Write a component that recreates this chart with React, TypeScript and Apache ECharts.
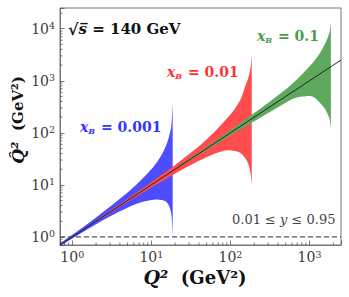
import React, { useEffect, useRef } from "react";
import * as echarts from "echarts";

// Axis extents (GeV^2)
const X_MIN = 0.7;
const X_MAX = 2500;
const Y_MIN = 0.7;
const Y_MAX = 25000;

// x_B = 0.001 band: Q^2 and the reconstructed Q̂^2 envelope
const blueQ2 = [0.7, 1, 1.6, 2.5, 4, 6.3, 9, 11.2, 13.5, 15.5, 17, 18, 18.6];
const blueUpper = [0.75, 1.1, 1.84, 3.08, 5.4, 9.75, 16.7, 24.5, 38, 59, 93, 150, 372];
const blueLower = [0.668, 0.93, 1.43, 2.13, 3.1, 4.26, 4.94, 5.24, 5.13, 4.68, 3.72, 2.54, 1.1];

// x_B = 0.01 band
const redQ2 = [1.96, 3, 5, 10, 16, 25, 40, 63, 90, 112, 135, 155, 170, 180, 186];
const redUpper = [2.0, 3.14, 5.36, 11.2, 18.8, 31.5, 55.2, 105, 188, 281, 447, 813, 1200, 1800, 3160];
const redLower = [1.91, 2.86, 4.67, 8.9, 13.6, 19.9, 29, 39.7, 46.1, 44.6, 40.7, 32, 24, 16, 10];

// x_B = 0.1 band
const greenQ2 = [19.6, 30, 50, 100, 160, 250, 400, 630, 900, 1120, 1350, 1550, 1700, 1800, 1862];
const greenUpper = [20.0, 31.4, 53.6, 112, 188, 308, 527, 931, 1600, 2290, 3390, 4900, 6760, 9020, 12900];
const greenLower = [19.1, 28.6, 46.7, 89, 136, 203, 310, 456, 506, 489, 380, 295, 224, 180, 115];

// Q̂^2 = Q^2 diagonal and the Q̂^2 = 1 cut
const diagonalQ2 = [0.7, 2500];
const cutQ2hat = 1;

// minor ticks
const xMinorTicks = [0.8, 0.9, 2, 3, 4, 5, 6, 7, 8, 9, 20, 30, 40, 50, 60, 70, 80, 90, 200, 300, 400, 500, 600, 700, 800, 900, 2000];
const yMinorTicks = [0.8, 0.9, 2, 3, 4, 5, 6, 7, 8, 9, 20, 30, 40, 50, 60, 70, 80, 90, 200, 300, 400, 500, 600, 700, 800, 900, 2000, 3000, 4000, 5000, 6000, 7000, 8000, 9000, 20000];

const SERIF = "DejaVu Serif";

const BLUE = "#4d4dff";
const RED = "#ff4d4d";
const GREEN = "#5fa95f";

function curve(pts: number[][]): string {
  let d = "";
  for (let i = 0; i < pts.length - 1; i++) {
    const p0 = pts[Math.max(i - 1, 0)];
    const p1 = pts[i];
    const p2 = pts[i + 1];
    const p3 = pts[Math.min(i + 2, pts.length - 1)];
    const c1 = [p1[0] + (p2[0] - p0[0]) / 6, p1[1] + (p2[1] - p0[1]) / 6];
    const c2 = [p2[0] - (p3[0] - p1[0]) / 6, p2[1] - (p3[1] - p1[1]) / 6];
    d += ` C ${c1[0]} ${c1[1]} ${c2[0]} ${c2[1]} ${p2[0]} ${p2[1]}`;
  }
  return d;
}

function bandSeries(name: string, q2: number[], up: number[], lo: number[], color: string) {
  return {
    type: "custom",
    name,
    silent: true,
    clip: true,
    data: [[q2[0], lo[0]]],
    renderItem: (_params: any, api: any) => {
      const lower = q2.map((q, i) => api.coord([q, lo[i]]));
      const upper = q2.map((q, i) => api.coord([q, up[i]])).reverse();
      let d = `M ${lower[0][0]} ${lower[0][1]}` + curve(lower);
      d += ` L ${upper[0][0]} ${upper[0][1]}` + curve(upper) + " Z";
      return { type: "path", shape: { pathData: d }, style: { fill: color, stroke: null } };
    },
  };
}

function tickSeries(values: number[], isX: boolean) {
  return {
    type: "custom",
    silent: true,
    data: values.map((v) => (isX ? [v, Y_MIN] : [X_MIN, v])),
    renderItem: (_params: any, api: any) => {
      const p = api.coord([api.value(0), api.value(1)]);
      const shape = isX
        ? { x1: p[0], y1: p[1], x2: p[0], y2: p[1] - 2.5 }
        : { x1: p[0], y1: p[1], x2: p[0] + 2.5, y2: p[1] };
      return { type: "line", shape, style: { stroke: "#555", lineWidth: 0.8 } };
    },
  };
}

function powLabel(v: number): string {
  const e = Math.round(Math.log10(v));
  if (Math.abs(Math.log10(v) - e) > 1e-6) return "";
  return `{b|10}{s|${e}}`;
}

const labelRich = {
  b: { fontFamily: SERIF, fontSize: 14, lineHeight: 14, color: "#3a3a3a" },
  s: { fontFamily: SERIF, fontSize: 9.5, lineHeight: 10, color: "#3a3a3a", padding: [0, 0, 6, 0] },
};

function tok(color: string, extra: any) {
  return { fontFamily: SERIF, fontWeight: "bold", fill: color, color, ...extra };
}

function xbText(x: number, y: number, value: string, color: string) {
  return {
    type: "text",
    x,
    y,
    silent: true,
    style: {
      text: `{x|x}{b|B}{t| = ${value}}`,
      align: "left",
      verticalAlign: "middle",
      textAlign: "left",
      textVerticalAlign: "middle",
      rich: {
        x: tok(color, { fontSize: 14, fontStyle: "italic" }),
        b: tok(color, { fontSize: 8, fontStyle: "italic", padding: [8, 1, 0, 0] }),
        t: tok(color, { fontSize: 14 }),
      },
    },
  };
}

export default function App() {
  const ref = useRef<HTMLDivElement>(null);
  useEffect(() => {
    const chart = echarts.init(ref.current!, null, { renderer: "svg" });
    const option: any = {
      animation: false,
      backgroundColor: "#fff",
      textStyle: { fontFamily: SERIF },
      grid: { left: 60, top: 8, right: 8, bottom: 52, show: true, borderColor: "#777", borderWidth: 1 },
      xAxis: {
        type: "log",
        logBase: 10,
        min: X_MIN,
        max: X_MAX,
        axisLine: { show: true, lineStyle: { color: "#777", width: 1 } },
        axisTick: { show: true, inside: true, length: 4.5, lineStyle: { color: "#555", width: 0.8 } },
        splitLine: { show: false },
        axisLabel: { margin: 5, fontFamily: SERIF, formatter: powLabel, rich: labelRich },
      },
      yAxis: {
        type: "log",
        logBase: 10,
        min: Y_MIN,
        max: Y_MAX,
        axisLine: { show: true, lineStyle: { color: "#777", width: 1 } },
        axisTick: { show: true, inside: true, length: 4.5, lineStyle: { color: "#555", width: 0.8 } },
        splitLine: { show: false },
        axisLabel: { margin: 5, fontFamily: SERIF, formatter: powLabel, rich: labelRich },
      },
      series: [
        bandSeries("xB=0.001", blueQ2, blueUpper, blueLower, BLUE),
        bandSeries("xB=0.01", redQ2, redUpper, redLower, RED),
        bandSeries("xB=0.1", greenQ2, greenUpper, greenLower, GREEN),
        {
          type: "line",
          silent: true,
          symbol: "none",
          data: [
            [X_MIN, cutQ2hat],
            [X_MAX, cutQ2hat],
          ],
          lineStyle: { color: "#555", width: 1.2, type: [5, 3] },
        },
        {
          type: "line",
          silent: true,
          symbol: "none",
          data: diagonalQ2.map((q) => [q, q]),
          lineStyle: { color: "#222", width: 1 },
        },
        tickSeries(xMinorTicks, true),
        tickSeries(yMinorTicks, false),
      ],
      graphic: [
        {
          type: "text",
          x: 68,
          y: 29,
          silent: true,
          style: {
            text: "{r|√}{s|s\u0305}{t| = 140 GeV}",
            align: "left",
            verticalAlign: "middle",
            textAlign: "left",
            textVerticalAlign: "middle",
            rich: {
              r: tok("#111", { fontSize: 16 }),
              s: tok("#111", { fontSize: 15, fontStyle: "italic" }),
              t: tok("#111", { fontSize: 15 }),
            },
          },
        },
        xbText(80, 127, "0.001", "#3535ff"),
        xbText(167, 72, "0.01", "#ff3535"),
        xbText(257, 36, "0.1", "#4a9e4a"),
        {
          type: "text",
          x: 232,
          y: 219,
          silent: true,
          style: {
            text: "{t|0.01 ≤ }{i|y}{t| ≤ 0.95}",
            align: "left",
            verticalAlign: "middle",
            textAlign: "left",
            textVerticalAlign: "middle",
            rich: {
              t: { fontFamily: SERIF, fontSize: 13, fill: "#444", color: "#444" },
              i: { fontFamily: SERIF, fontSize: 13, fontStyle: "italic", fill: "#444", color: "#444" },
            },
          },
        },
        {
          type: "text",
          x: 195,
          y: 277,
          silent: true,
          style: {
            text: "{q|Q²}{n|  (GeV²)}",
            align: "center",
            verticalAlign: "middle",
            textAlign: "center",
            textVerticalAlign: "middle",
            rich: {
              q: tok("#111", { fontSize: 19, lineHeight: 19, fontStyle: "italic" }),
              n: tok("#111", { fontSize: 18, lineHeight: 19 }),
            },
          },
        },
        {
          type: "text",
          x: 18,
          y: 120,
          rotation: Math.PI / 2,
          silent: true,
          style: {
            text: "{q|Q\u0302²}{n|  (GeV²)}",
            align: "center",
            verticalAlign: "middle",
            textAlign: "center",
            textVerticalAlign: "middle",
            rich: {
              q: tok("#111", { fontSize: 17, lineHeight: 18, fontStyle: "italic" }),
              n: tok("#111", { fontSize: 15, lineHeight: 18 }),
            },
          },
        },
      ],
    };
    chart.setOption(option);
    return () => chart.dispose();
  }, []);
  return <div ref={ref} style={{ position: "absolute", left: 0, top: 0, width: 349, height: 297 }} />;
}
